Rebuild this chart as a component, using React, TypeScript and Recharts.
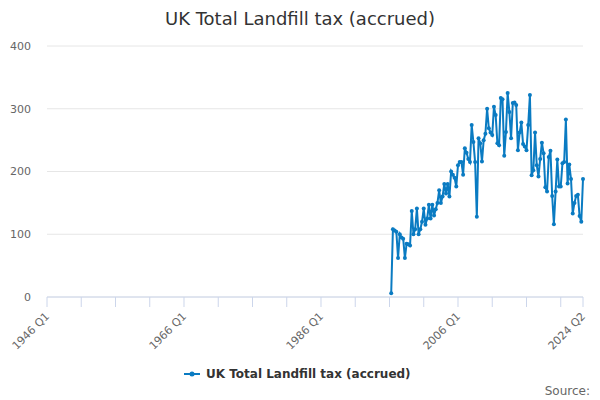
import React from 'react';
import { LineChart, Line, XAxis, YAxis, CartesianGrid } from 'recharts';

const TITLE = 'UK Total Landfill tax (accrued)';
const SERIES_NAME = 'UK Total Landfill tax (accrued)';
const SOURCE = 'Source:';
const FIRST_YEAR = 1946;
const LAST_YEAR = 2024;
const LAST_QUARTER = 2;
const SERIES_START = '1996 Q2';
const LABELLED_TICKS = ['1946 Q1', '1966 Q1', '1986 Q1', '2006 Q1', '2024 Q2'];
const Y_TICKS = [0, 100, 200, 300, 400];

// Quarterly values (£m) from 1996 Q2 to 2024 Q2
const VALUES = [
  6, 108, 106, 104, 62, 100, 95, 93, 62, 85,
  84, 82, 137, 100, 108, 141, 100, 108, 120, 141,
  115, 125, 147, 125, 147, 130, 140, 150, 170, 150,
  160, 180, 165, 180, 160, 200, 195, 190, 176, 210,
  215, 215, 195, 237, 230, 220, 215, 274, 247, 215,
  128, 253, 245, 216, 250, 260, 300, 269, 262, 258,
  303, 290, 245, 242, 317, 315, 225, 263, 325, 295,
  253, 309, 310, 306, 234, 262, 278, 244, 240, 234,
  274, 322, 194, 202, 262, 210, 192, 220, 246, 229,
  175, 168, 223, 233, 161, 116, 168, 219, 176, 176,
  213, 215, 283, 181, 211, 188, 133, 150, 161, 163,
  129, 120, 188,
];

const COLOR = '#0a7bc2';
const FONT = '"DejaVu Sans", sans-serif';

const CATEGORIES: string[] = [];
for (let y = FIRST_YEAR; y <= LAST_YEAR; y++) {
  for (let q = 1; q <= 4; q++) {
    if (y === LAST_YEAR && q > LAST_QUARTER) break;
    CATEGORIES.push(`${y} Q${q}`);
  }
}
const startIdx = CATEGORIES.indexOf(SERIES_START);
const DATA = CATEGORIES.map((q, i) => ({
  q,
  v: i >= startIdx && i - startIdx < VALUES.length ? VALUES[i - startIdx] : null,
}));
const TICKS = CATEGORIES.filter((_, i) => i % 20 === 0).concat([CATEGORIES[CATEGORIES.length - 1]]);

const XTick = (props: any) => {
  const { x, y, payload } = props;
  if (!LABELLED_TICKS.includes(payload.value)) return <g />;
  const ax = x + 3;
  const ay = y + 10;
  return (
    <text
      x={ax}
      y={ay}
      textAnchor="end"
      fill="#666666"
      fontSize={11}
      fontFamily={FONT}
      transform={`rotate(-45, ${ax}, ${ay})`}
    >
      {payload.value}
    </text>
  );
};

export default function App() {
  return (
    <div style={{ position: 'absolute', left: 0, top: 0, width: 600, height: 400, background: '#fff', fontFamily: FONT }}>
      <LineChart
        width={600}
        height={400}
        data={DATA}
        margin={{ top: 46, right: 17, bottom: 0, left: 0 }}
      >
        <CartesianGrid vertical={false} stroke="#e6e6e6" />
        <XAxis
          dataKey="q"
          type="category"
          ticks={TICKS}
          interval={0}
          height={103}
          tickSize={10}
          tickMargin={0}
          axisLine={{ stroke: '#ccd6eb' }}
          tickLine={{ stroke: '#ccd6eb' }}
          tick={<XTick />}
        />
        <YAxis
          width={47}
          domain={[0, 400]}
          ticks={Y_TICKS}
          axisLine={false}
          tickLine={false}
          tickSize={0}
          tickMargin={16}
          tick={{ fill: '#666666', fontSize: 11, fontFamily: FONT }}
        />
        <Line
          type="linear"
          dataKey="v"
          stroke={COLOR}
          strokeWidth={2}
          dot={{ r: 2, fill: COLOR, stroke: COLOR, strokeWidth: 0 }}
          activeDot={false}
          isAnimationActive={false}
          connectNulls={false}
        />
      </LineChart>
      <svg width={600} height={400} style={{ position: 'absolute', left: 0, top: 0, pointerEvents: 'none' }}>
        <text x={300} y={25} textAnchor="middle" fontSize={18} fill="#333333" fontFamily={FONT}>
          {TITLE}
        </text>
        <line x1={184} y1={374} x2={200} y2={374} stroke={COLOR} strokeWidth={2} />
        <circle cx={192} cy={374} r={2.5} fill={COLOR} />
        <text x={206} y={378} fontSize={12} fontWeight="bold" fill="#333333" fontFamily={FONT}>
          {SERIES_NAME}
        </text>
        <text x={590} y={395} textAnchor="end" fontSize={12} fill="#666666" fontFamily={FONT}>
          {SOURCE}
        </text>
      </svg>
    </div>
  );
}
